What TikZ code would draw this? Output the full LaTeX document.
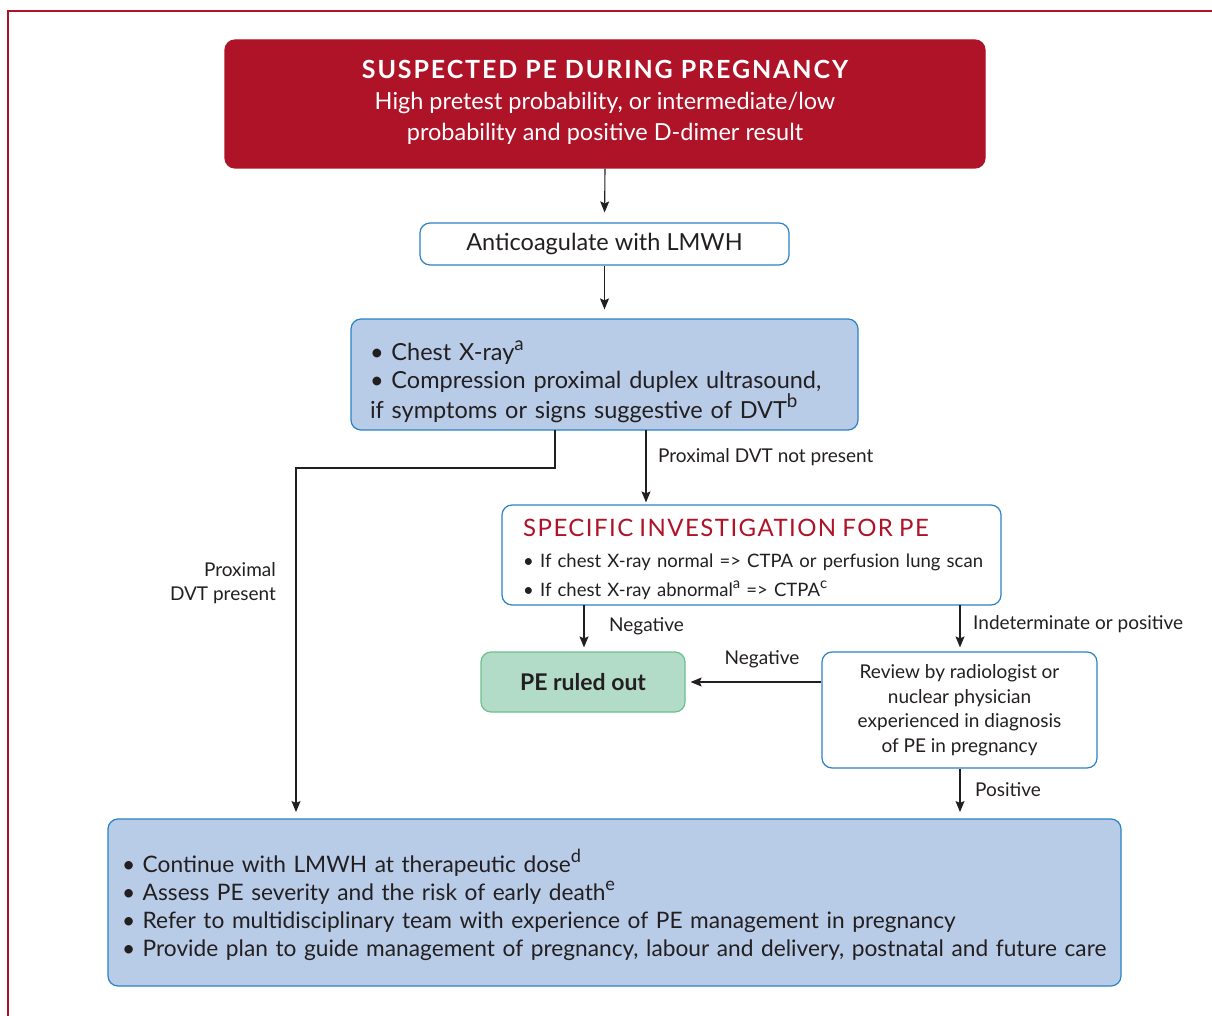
\documentclass[tikz,border=0pt]{standalone}
\usepackage{fontspec}
\setmainfont{Lato}
\newfontfamily\titlefont[LetterSpace=7.5]{Lato}
\newfontfamily\spectitlefont[LetterSpace=6]{Lato}
\usetikzlibrary{arrows.meta}
\newcommand\supsc[1]{\raisebox{0.45em}{\scalebox{0.8}{#1}}}
\definecolor{escred}{HTML}{AE1328}
\definecolor{escblue}{HTML}{2A82C6}
\definecolor{escfill}{HTML}{B8CCE8}
\definecolor{escgreen}{HTML}{B2DCC8}
\definecolor{escgreenb}{HTML}{6CC08F}
\definecolor{esctext}{HTML}{231F20}
\tikzset{
  every node/.style={text=esctext},
  boxbase/.style={rounded corners=10pt, line width=1.2pt, inner sep=0pt},
  whitebox/.style={boxbase, draw=escblue, fill=white},
  bluebox/.style={boxbase, draw=escblue, fill=escfill},
  greenbox/.style={boxbase, draw=escgreenb, fill=escgreen},
  redbox/.style={boxbase, draw=escred, fill=escred},
  txt/.style={inner sep=0pt},
  conn/.style={line width=1.1pt, draw=esctext, -{Stealth[length=11pt,width=9pt,inset=2pt]}},
  lbl/.style={font=\fontsize{19}{24}\selectfont, inner sep=0pt},
}
\begin{document}
\begin{tikzpicture}[x=1pt,y=-1pt]
\useasboundingbox (0,0) rectangle (1212,1016);
\draw[escred, line width=2pt] (7,11) -- (1212,11);
\draw[escred, line width=2pt] (8,10) -- (8,1016);

% boxes
\node[redbox, minimum width=760pt, minimum height=128pt] (top) at (605,104) {};
\node[whitebox, minimum width=369pt, minimum height=42pt, font=\fontsize{23.5}{28}\selectfont] (anti) at (604.5,244) {Anticoagulate with LMWH};
\node[bluebox, minimum width=507pt, minimum height=111pt] (cxr) at (604.5,374.5) {};
\node[whitebox, minimum width=499pt, minimum height=100pt] (spec) at (751.5,555) {};
\node[greenbox, minimum width=204pt, minimum height=60pt, font=\fontsize{23}{24}\selectfont\bfseries] (out) at (583,682) {PE ruled out};
\node[whitebox, minimum width=275pt, minimum height=116pt, align=center, font=\fontsize{19}{24.5}\selectfont] (rev) at (959.5,710)
 {Review by radiologist or\\nuclear physician\\experienced in diagnosis\\of PE in pregnancy};
\node[bluebox, minimum width=1013pt, minimum height=167pt] (care) at (614.5,902.5) {};

% box texts
\node[txt, align=center, text=white, font=\fontsize{23.5}{31}\selectfont] (toptext) at (605,102)
 {\titlefont\bfseries\fontsize{25}{31}\selectfont SUSPECTED PE DURING PREGNANCY\\
  \normalfont\fontsize{23.5}{31}\selectfont High pretest probability, or intermediate/low\\
  probability and positive D-dimer result};

\node[txt, text width=469pt, align=left, font=\fontsize{23.5}{28}\selectfont] (cxrtext) at (604.5,381.5)
 {• Chest X-ray\supsc{a}\\
  • Compression proximal duplex ultrasound,\\
  if symptoms or signs suggestive of DVT\supsc{b}};

\node[txt, text width=474pt, align=left, anchor=west, font=\fontsize{18.5}{29}\selectfont] (spectext) at (523,559.5)
 {\textcolor{escred}{\spectitlefont\fontsize{24}{29}\selectfont SPECIFIC INVESTIGATION FOR PE}\\[2pt]
  • If chest X-ray normal => CTPA or perfusion lung scan\\
  • If chest X-ray abnormal\supsc{a} => CTPA\supsc{c}};

\node[txt, text width=985pt, align=left, font=\fontsize{22.7}{28}\selectfont] (caretext) at (614.5,904.5)
 {• Continue with LMWH at therapeutic dose\supsc{d}\\
  • Assess PE severity and the risk of early death\supsc{e}\\
  • Refer to multidisciplinary team with experience of PE management in pregnancy\\
  • Provide plan to guide management of pregnancy, labour and delivery, postnatal and future care};

% connectors
\coordinate (cxrL) at (555,430);
\coordinate (cxrR) at (646,430);
\coordinate (specL) at (584,605);
\coordinate (specR) at (960,605);
\coordinate (careL) at (296,819);
\coordinate (careR) at (960,819);

\draw[conn, shorten >=10pt] (top.south) -- (anti.north);
\draw[conn, shorten >=9pt] (anti.south) -- (cxr.north);
\draw[conn, shorten >=7pt] (cxrL) -- (555,468) -- (296,468) -- (careL);
\draw[conn, shorten >=2pt] (cxrR) -- (cxrR |- spec.north);
\draw[conn, shorten >=4pt] (specL) -- (specL |- out.north);
\draw[conn, shorten >=4pt] (specR) -- (specR |- rev.north);
\draw[conn, shorten >=5pt] (rev.west |- out.east) -- (out.east);
\draw[conn, shorten >=7pt] (rev.south -| careR) -- (careR);

% labels
\node[lbl, anchor=west] (l1) at (658,457) {Proximal DVT not present};
\node[lbl, anchor=east, align=right] (l2) at (276,583) {Proximal\\DVT present};
\node[lbl, anchor=west] (l3) at (609,626) {Negative};
\node[lbl, anchor=west] (l4) at (973,624) {Indeterminate or positive};
\node[lbl] (l5) at (762,659) {Negative};
\node[lbl, anchor=west] (l6) at (975,790) {Positive};
\end{tikzpicture}
\end{document}
